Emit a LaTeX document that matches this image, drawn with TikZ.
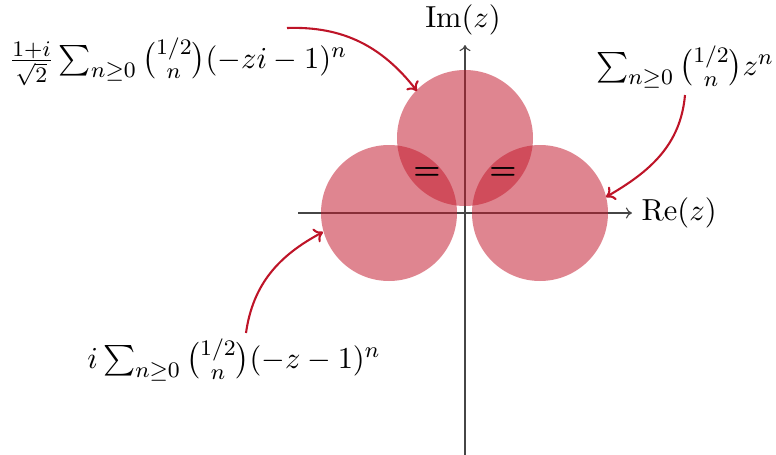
\documentclass[tikz,border=0pt]{standalone}
\usepackage{amsmath,amssymb}
\usetikzlibrary{arrows.meta}
\definecolor{disc}{RGB}{195,25,45}
\definecolor{arr}{RGB}{190,20,40}
\definecolor{axis}{RGB}{70,70,70}
\tikzset{
  disk/.style={fill=disc,fill opacity=0.53,draw=none},
  axisline/.style={draw=axis,line width=0.4pt,-{To[length=2.2pt,width=4pt]}},
  pointer/.style={draw=arr,line width=0.75pt,-{To[length=3pt,width=5.5pt]}},
  lbl/.style={inner sep=0pt,font=\fontsize{11}{13}\selectfont},
}
\begin{document}
\begin{tikzpicture}[x=0.36pt,y=-0.36pt]
\useasboundingbox (0,0) rectangle (776,455);
% axes
\coordinate (xs) at (298,213);
\coordinate (xe) at (632,213);
\coordinate (ys) at (465,455);
\coordinate (ye) at (465,45);
\draw[axisline] (xs) -- (xe);
\draw[axisline] (ys) -- (ye);
% disks
\fill[disk] (465,138) circle (68);
\fill[disk] (389,213) circle (68);
\fill[disk] (540,213) circle (68);
% labels
\node[lbl] (im) at (463,20) {$\mathrm{Im}(z)$};
\node[lbl,anchor=west] (re) at (641,213) {$\mathrm{Re}(z)$};
\node[lbl] (eq1) at (427,174) {$\boldsymbol{=}$};
\node[lbl] (eq2) at (503,174) {$\boldsymbol{=}$};
\node[lbl] (f1) at (178,62) {$\frac{1+i}{\sqrt{2}}\sum_{n\geq 0}\binom{1/2}{n}(-zi-1)^n$};
\node[lbl] (f2) at (685,67) {$\sum_{n\geq 0}\binom{1/2}{n}z^n$};
\node[lbl] (f3) at (234,360) {$i\sum_{n\geq 0}\binom{1/2}{n}(-z-1)^n$};
% pointers
\coordinate (p1s) at (287,28);
\coordinate (p1e) at (417,91);
\coordinate (p2s) at (685,95);
\coordinate (p2e) at (606,197);
\coordinate (p3s) at (246,333);
\coordinate (p3e) at (323,232);
\draw[pointer] (p1s) to[out=2,in=128] (p1e);
\draw[pointer] (p2s) to[out=-95,in=30] (p2e);
\draw[pointer] (p3s) to[out=82,in=208] (p3e);
\end{tikzpicture}
\end{document}
